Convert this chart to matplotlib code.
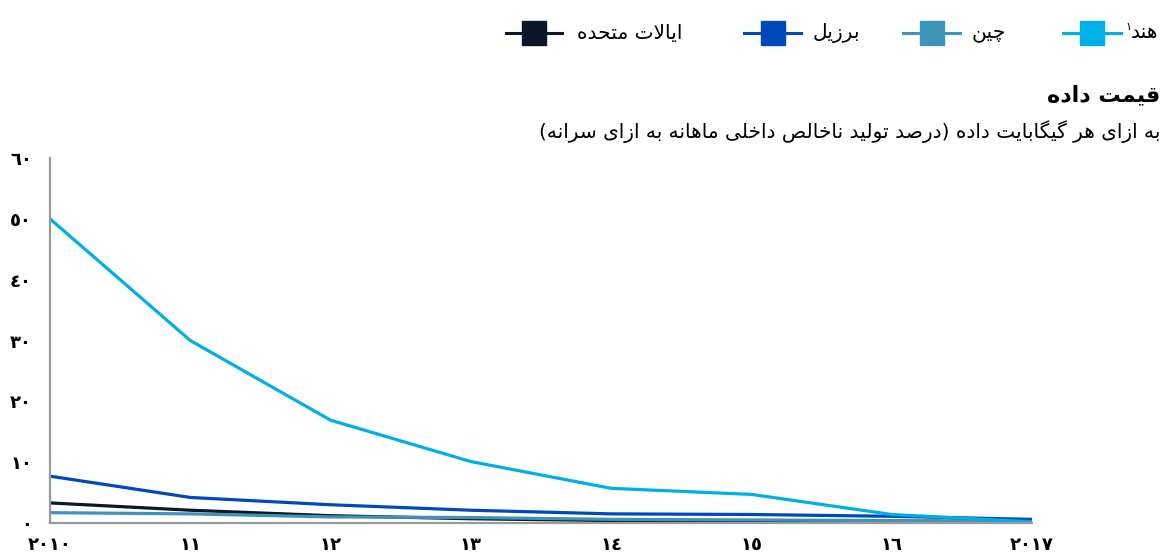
import matplotlib
matplotlib.use("Agg")
import matplotlib.pyplot as plt
from matplotlib.lines import Line2D

plt.rcParams['font.family'] = ['DejaVu Sans']

years = [2010, 2011, 2012, 2013, 2014, 2015, 2016, 2017]
year_labels = ['٢٠١٠', '١١', '١٢', '١٣', '١٤', '١٥', '١٦', '٢٠١٧']
y_ticks = [0, 10, 20, 30, 40, 50, 60]
y_labels = ['٠', '١٠', '٢٠', '٣٠', '٤٠', '٥٠', '٦٠']

# price per GB, % of monthly GDP per capita
india = [50.0, 30.0, 16.9, 10.1, 5.7, 4.7, 1.4, 0.2]
brazil = [7.7, 4.2, 3.0, 2.1, 1.5, 1.4, 1.1, 0.6]
china = [1.7, 1.5, 1.0, 0.9, 0.6, 0.5, 0.4, 0.2]
usa = [3.3, 2.1, 1.2, 0.7, 0.4, 0.3, 0.3, 0.3]

names = ['هند', 'چین', 'برزیل', 'ایالات متحده']
colors = ['#00aee8', '#3d93b8', '#0049bd', '#0c1828']

title = 'قیمت داده'
subtitle = 'به ازای هر گیگابایت داده (درصد تولید ناخالص داخلی ماهانه به ازای سرانه)'

# presentation forms: isolated, final, initial, medial
FORMS = {
    'ا': (0xFE8D, 0xFE8E), 'د': (0xFEA9, 0xFEAA), 'ر': (0xFEAD, 0xFEAE),
    'ز': (0xFEAF, 0xFEB0), 'و': (0xFEED, 0xFEEE),
    'ب': (0xFE8F, 0xFE90, 0xFE91, 0xFE92), 'ت': (0xFE95, 0xFE96, 0xFE97, 0xFE98),
    'ح': (0xFEA1, 0xFEA2, 0xFEA3, 0xFEA4), 'خ': (0xFEA5, 0xFEA6, 0xFEA7, 0xFEA8),
    'س': (0xFEB1, 0xFEB2, 0xFEB3, 0xFEB4), 'ص': (0xFEB9, 0xFEBA, 0xFEBB, 0xFEBC),
    'ق': (0xFED5, 0xFED6, 0xFED7, 0xFED8), 'ل': (0xFEDD, 0xFEDE, 0xFEDF, 0xFEE0),
    'م': (0xFEE1, 0xFEE2, 0xFEE3, 0xFEE4), 'ن': (0xFEE5, 0xFEE6, 0xFEE7, 0xFEE8),
    'ه': (0xFEE9, 0xFEEA, 0xFEEB, 0xFEEC), 'ی': (0xFBFC, 0xFBFD, 0xFBFE, 0xFBFF),
    'چ': (0xFB7A, 0xFB7B, 0xFB7C, 0xFB7D), 'گ': (0xFB92, 0xFB93, 0xFB94, 0xFB95),
}
MIRROR = {'(': ')', ')': '('}


def shape(text):
    # join letters, then reverse for left-to-right drawing
    out = []
    i = 0
    while i < len(text):
        c = text[i]
        if c not in FORMS:
            out.append(MIRROR.get(c, c))
            i += 1
            continue
        prev = text[i - 1] if i > 0 else ''
        joins_prev = prev in FORMS and len(FORMS[prev]) == 4
        if c == 'ل' and i + 1 < len(text) and text[i + 1] == 'ا':
            out.append(chr(0xFEFC if joins_prev else 0xFEFB))
            i += 2
            continue
        nxt = text[i + 1] if i + 1 < len(text) else ''
        joins_next = len(FORMS[c]) == 4 and nxt in FORMS
        f = FORMS[c]
        if joins_prev and joins_next:
            out.append(chr(f[3]))
        elif joins_prev:
            out.append(chr(f[1]))
        elif joins_next:
            out.append(chr(f[2]))
        else:
            out.append(chr(f[0]))
        i += 1
    return ''.join(reversed(out))


W, H = 1164, 554
fig = plt.figure(figsize=(W / 100, H / 100), dpi=100)
ax = fig.add_axes([50 / W, 31 / H, 982 / W, 365 / H])

for values, color in [(usa, colors[3]), (china, colors[1]),
                      (brazil, colors[2]), (india, colors[0])]:
    ax.plot(years, values, color=color, lw=2.3, solid_capstyle='butt')

ax.set_xlim(2010, 2017)
ax.set_ylim(0, 60)
ax.set_xticks(years)
ax.set_xticklabels(year_labels, fontsize=13, fontweight='bold')
ax.set_yticks(y_ticks)
ax.set_yticklabels(y_labels, fontsize=13, fontweight='bold')
ax.tick_params(axis='both', length=0)
ax.tick_params(axis='y', pad=13)
ax.tick_params(axis='x', pad=9)
for s in ['top', 'right']:
    ax.spines[s].set_visible(False)
for s in ['left', 'bottom']:
    ax.spines[s].set_color('#9a9a9a')
    ax.spines[s].set_linewidth(1.6)

# legend, laid out right to left
leg_y = 1 - 33 / H
line_spans = [(1063, 1121), (903, 960), (744, 801), (506, 562)]
text_right = [1158, 1006, 860, 682]
for name, color, (x0, x1), tx in zip(names, colors, line_spans, text_right):
    fig.add_artist(Line2D([x0 / W, x1 / W], [leg_y, leg_y], color=color, lw=2.2,
                          transform=fig.transFigure))
    fig.add_artist(Line2D([(x0 + x1) / 2 / W], [leg_y], color=color, marker='s',
                          markersize=17, transform=fig.transFigure))
    fig.text(tx / W, leg_y, shape(name), ha='right', va='center', fontsize=14.5)

fig.canvas.draw()
renderer = fig.canvas.get_renderer()
india_label = fig.texts[0]
bb = india_label.get_window_extent(renderer)
fig.text((bb.x0 + 1) / W, (bb.y1 + 2) / H, '١', ha='right', va='top', fontsize=8)

fig.text(1160 / W, 1 - 95 / H, shape(title), ha='right', va='center',
         fontsize=16, fontweight='bold')
fig.text(1160 / W, 1 - 132 / H, shape(subtitle), ha='right', va='center',
         fontsize=14.5)

fig.savefig('out.png', dpi=100)
